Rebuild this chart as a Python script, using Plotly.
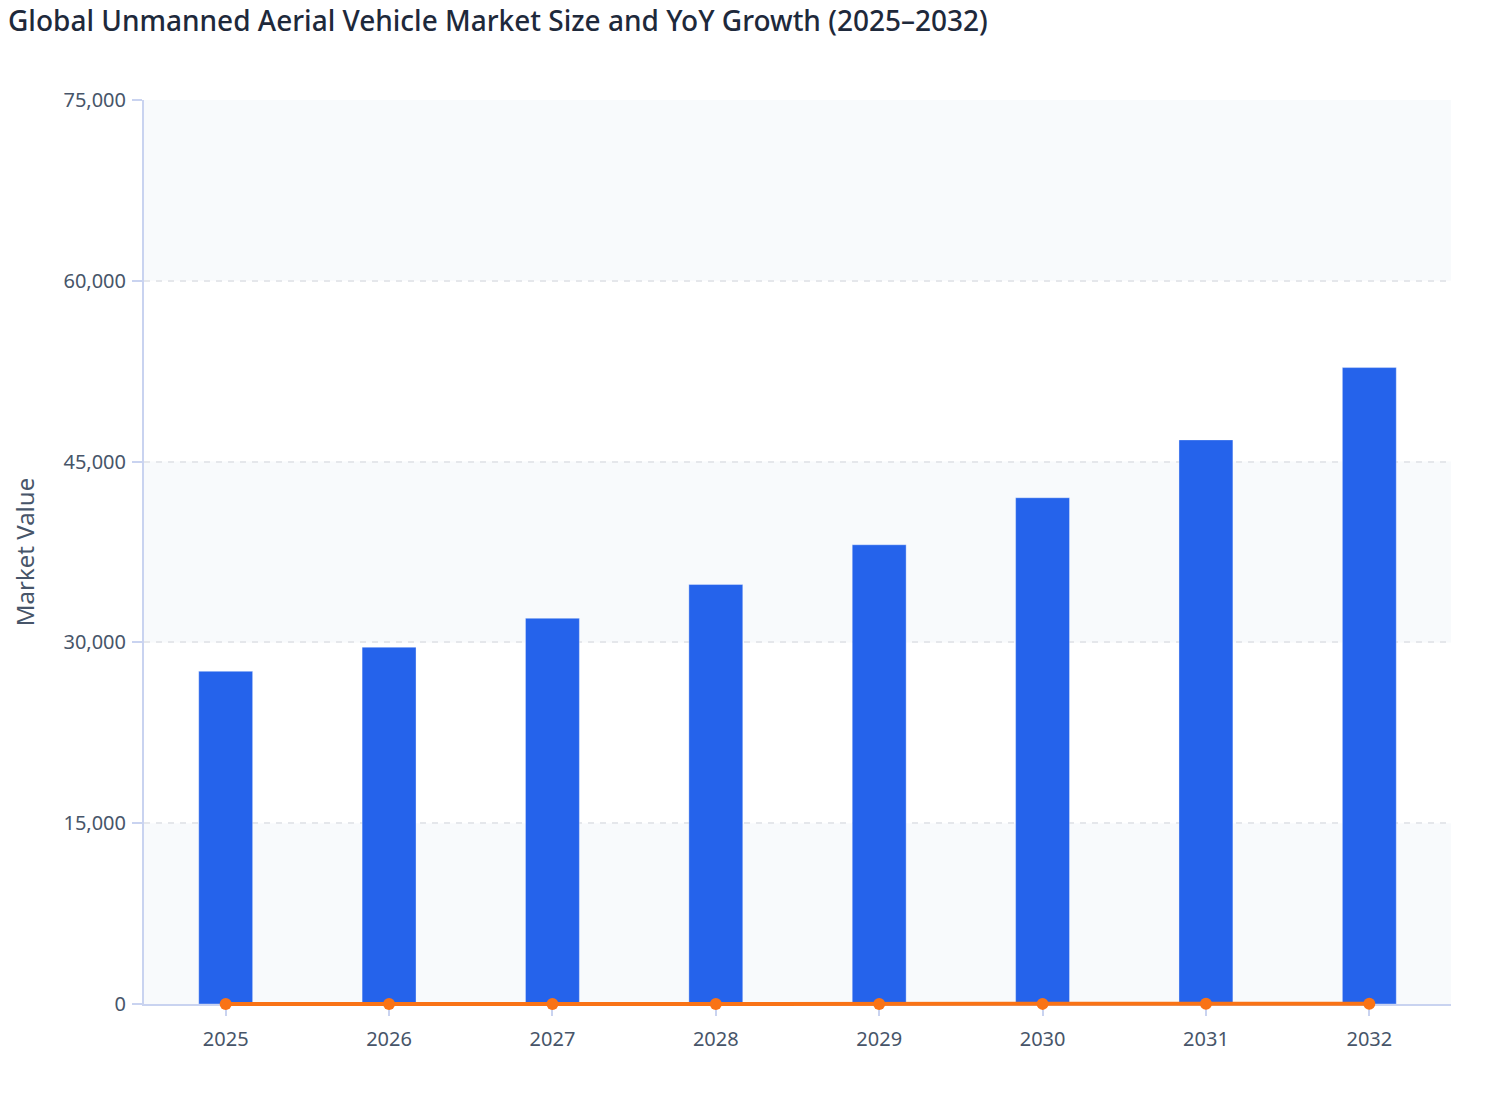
import plotly.graph_objects as go

years = ["2025", "2026", "2027", "2028", "2029", "2030", "2031", "2032"]
market_value = [27600, 29600, 32000, 34800, 38100, 42000, 46800, 52800]
yoy_growth = [6.8, 7.2, 8.1, 8.8, 9.5, 10.2, 11.4, 12.8]

band_edges = [0, 15000, 30000, 45000, 60000, 75000]
tick_vals = [0, 15000, 30000, 45000, 60000, 75000]

y_max = 75000
plot_h = 1120 - 92 - 118
low = 6 / plot_h  # growth line lives on a slightly taller twin axis so it is not clipped at 0

fig = go.Figure()

fig.add_trace(go.Bar(
    x=years, y=market_value, name="Market Size",
    width=0.33,
    marker=dict(color="#2563EB", line=dict(color="rgba(255,255,255,0.35)", width=1)),
))
fig.add_trace(go.Scatter(
    x=years, y=yoy_growth, name="YoY Growth", mode="lines+markers",
    xaxis="x2", yaxis="y2",
    line=dict(color="#F97316", width=4),
    marker=dict(color="#F97316", size=12),
    cliponaxis=False,
))

# alternating background bands
for i in range(0, len(band_edges) - 1, 2):
    fig.add_shape(type="rect", xref="paper", yref="y", x0=0, x1=1,
                  y0=band_edges[i], y1=band_edges[i + 1],
                  fillcolor="#F8FAFC", line_width=0, layer="below")

fig.update_layout(
    width=1508, height=1120,
    title=dict(text="Global Unmanned Aerial Vehicle Market Size and YoY Growth (2025–2032)",
               x=0, xref="container", xanchor="left", y=0.988, yanchor="middle",
               font=dict(family="Noto Sans", size=28, color="#1E293B", weight=500)),
    font=dict(family="Noto Sans", size=20, color="#475569"),
    paper_bgcolor="white", plot_bgcolor="rgba(0,0,0,0)",
    showlegend=False,
    margin=dict(l=136, r=65, t=92, b=118),
    xaxis=dict(
        range=[-0.5, 7.5],
        showline=True, linecolor="#C9D3F0", linewidth=2,
        ticks="outside", tickcolor="#C9D3F0", ticklen=10, tickwidth=2,
        ticklabelstandoff=6,
        showgrid=False, layer="below traces", automargin=False,
    ),
    yaxis=dict(
        domain=[low, 1],
        title=dict(text="Market Value", standoff=45),
        range=[0, y_max], tickvals=tick_vals, tickformat=",",
        showline=True, linecolor="#C9D3F0", linewidth=2,
        ticks="outside", tickcolor="#C9D3F0", ticklen=10, tickwidth=2,
        ticklabelstandoff=2,
        gridcolor="#E5E7EB", griddash="6px,6px", gridwidth=2,
        zeroline=False, layer="below traces", automargin=False,
    ),
    xaxis2=dict(range=[-0.5, 7.5], anchor="y2", overlaying="x", visible=False),
    yaxis2=dict(domain=[0, 1], range=[-y_max * low / (1 - low), y_max],
                anchor="x2", visible=False),
)

fig.write_html("out.html")
